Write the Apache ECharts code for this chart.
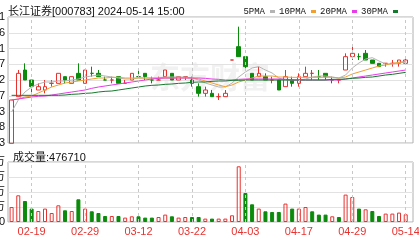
<!DOCTYPE html>
<html><head><meta charset="utf-8">
<script src="https://cdn.jsdelivr.net/npm/echarts@6/dist/echarts.min.js"></script>
<style>html,body{margin:0;padding:0;background:#fff}#c{width:419px;height:240px}</style>
</head><body><div id="c"></div>
<script>
const dates = ['02-06','02-07','02-08','02-19','02-20','02-21','02-22','02-23','02-26','02-27','02-28','02-29','03-01','03-04','03-05','03-06','03-07','03-08','03-11','03-12','03-13','03-14','03-15','03-18','03-19','03-20','03-21','03-22','03-25','03-26','03-27','03-28','03-29','04-01','04-02','04-03','04-08','04-09','04-10','04-11','04-12','04-15','04-16','04-17','04-18','04-19','04-22','04-23','04-24','04-25','04-26','04-29','04-30','05-06','05-07','05-08','05-09','05-10','05-13','05-14'];
// [open, close, low, high]
const ohlc = [
[5.03,5.16,5.03,5.16],[5.17,5.24,5.17,5.25],[5.25,5.22,5.22,5.27],[5.22,5.20,5.18,5.22],[5.19,5.20,5.19,5.21],
[5.19,5.20,5.18,5.22],[5.21,5.21,5.20,5.22],[5.21,5.24,5.21,5.24],[5.23,5.22,5.21,5.23],[5.21,5.23,5.21,5.23],
[5.24,5.22,5.22,5.27],[5.21,5.25,5.21,5.25],[5.24,5.24,5.23,5.26],[5.24,5.23,5.23,5.25],[5.22,5.22,5.22,5.23],
[5.22,5.22,5.21,5.23],[5.23,5.21,5.21,5.23],[5.21,5.21,5.21,5.22],[5.22,5.24,5.22,5.24],[5.23,5.23,5.23,5.25],
[5.24,5.23,5.22,5.24],[5.22,5.22,5.21,5.23],[5.22,5.22,5.22,5.23],[5.23,5.25,5.23,5.25],[5.24,5.22,5.22,5.24],
[5.22,5.23,5.22,5.23],[5.23,5.23,5.22,5.23],[5.22,5.21,5.20,5.23],[5.20,5.18,5.17,5.21],[5.18,5.19,5.17,5.20],
[5.18,5.17,5.17,5.19],[5.17,5.17,5.16,5.18],[5.17,5.18,5.17,5.19],[5.28,5.28,5.28,5.28],[5.32,5.29,5.29,5.38],
[5.29,5.26,5.25,5.29],[5.24,5.22,5.22,5.24],[5.23,5.24,5.23,5.26],[5.23,5.22,5.22,5.24],[5.22,5.22,5.21,5.23],
[5.22,5.19,5.19,5.22],[5.20,5.23,5.20,5.25],[5.22,5.21,5.20,5.23],[5.21,5.23,5.20,5.24],[5.23,5.24,5.23,5.26],
[5.24,5.24,5.22,5.25],[5.23,5.23,5.22,5.25],[5.24,5.23,5.22,5.24],[5.22,5.22,5.21,5.23],[5.22,5.22,5.21,5.22],
[5.25,5.29,5.25,5.30],[5.29,5.30,5.28,5.32],[5.29,5.29,5.28,5.30],[5.30,5.28,5.28,5.31],[5.28,5.27,5.27,5.28],
[5.27,5.26,5.26,5.27],[5.27,5.27,5.26,5.27],[5.27,5.27,5.26,5.28],[5.27,5.28,5.26,5.28],[5.27,5.28,5.27,5.29]];
const ma5 = [5.124,5.160,5.184,5.199,5.208,5.214,5.214,5.217,5.217,5.220,5.223,5.229,5.232,5.235,5.232,5.229,5.226,5.223,5.223,5.226,5.226,5.226,5.226,5.229,5.229,5.229,5.229,5.226,5.220,5.211,5.205,5.199,5.199,5.211,5.229,5.244,5.256,5.260,5.250,5.241,5.226,5.220,5.220,5.220,5.223,5.229,5.232,5.232,5.229,5.226,5.235,5.256,5.271,5.283,5.287,5.277,5.268,5.268,5.271,5.274];
const ma10 = [5.160,5.163,5.169,5.172,5.181,5.190,5.199,5.205,5.211,5.214,5.217,5.220,5.223,5.226,5.226,5.228,5.228,5.226,5.226,5.226,5.226,5.226,5.226,5.226,5.226,5.226,5.226,5.226,5.223,5.217,5.211,5.205,5.200,5.205,5.214,5.220,5.226,5.232,5.232,5.232,5.229,5.229,5.228,5.228,5.228,5.228,5.228,5.228,5.228,5.226,5.229,5.238,5.244,5.250,5.256,5.262,5.265,5.270,5.273,5.276];
const ma20 = [5.160,5.163,5.166,5.169,5.171,5.172,5.175,5.178,5.181,5.184,5.187,5.190,5.195,5.199,5.202,5.205,5.208,5.211,5.214,5.217,5.220,5.223,5.225,5.226,5.226,5.226,5.226,5.226,5.226,5.225,5.223,5.222,5.220,5.220,5.222,5.223,5.223,5.223,5.223,5.223,5.223,5.222,5.220,5.220,5.220,5.220,5.220,5.220,5.220,5.220,5.223,5.226,5.229,5.232,5.235,5.238,5.241,5.244,5.247,5.250];
const ma30 = [5.174,5.174,5.174,5.174,5.174,5.174,5.174,5.174,5.175,5.177,5.178,5.180,5.181,5.184,5.186,5.187,5.190,5.193,5.196,5.199,5.202,5.204,5.205,5.207,5.208,5.210,5.211,5.213,5.214,5.214,5.216,5.217,5.217,5.219,5.219,5.220,5.220,5.220,5.220,5.220,5.220,5.220,5.220,5.220,5.220,5.220,5.220,5.220,5.222,5.222,5.223,5.225,5.226,5.228,5.229,5.232,5.235,5.237,5.240,5.243];
const volumes = [925000,1646000,1295000,826000,678000,826000,555000,1030000,721000,678000,1400000,826000,660000,555000,370000,370000,370000,271000,351000,351000,271000,271000,308000,456000,351000,271000,308000,308000,308000,210000,210000,210000,210000,413000,3435000,1788000,1091000,826000,660000,617000,617000,1135000,826000,826000,925000,660000,456000,456000,351000,308000,1690000,1542000,826000,783000,678000,370000,518000,518000,580000,476710];
const volUp = [1,1,0,0,1,1,1,1,0,1,0,1,0,0,0,1,0,1,1,0,0,0,1,1,0,1,1,0,0,1,0,1,1,1,1,0,0,1,0,0,0,1,0,1,1,0,0,0,1,0,1,1,0,1,0,0,1,1,1,1];
const priceTicks = ['5.03','5.08','5.13','5.17','5.22','5.27','5.31','5.36','5.41'];
const volTicks = ['0','93万','185万','278万','370万'];
const xLabels = ['02-19','02-29','03-12','03-22','04-03','04-17','04-29','05-14'];
const maNames = ['5PMA','10PMA','20PMA','30PMA'];
const priceMin = 5.031, priceMax = 5.409, volMax = 3700000;

const RED = '#e8322f', GREEN = '#0b8a0b';
const MONO = '"Liberation Mono","Noto Sans CJK SC",monospace';
const SANS = '"Liberation Sans","Noto Sans CJK SC",sans-serif';
const maColors = ['#b4b4b4','#f0a030','#e83ce8','#167a2e'];
const maData = [ma5, ma10, ma20, ma30];
const vline = {silent:true, symbol:['none','none'], label:{show:false},
  lineStyle:{type:[3,3], color:'#c8c8c8', width:1}, data: xLabels.map(d=>({xAxis:d}))};
const G = {outerBoundsMode:'none', containLabel:false};

const chart = echarts.init(document.getElementById('c'), null, {renderer:'canvas'});
chart.setOption({
  animation:false,
  backgroundColor:'#fff',
  title:[
    {left:3, top:1, text:'长江证券[000783] 2024-05-14 15:00', textStyle:{fontSize:11, fontWeight:'normal', color:'#111', fontFamily:SANS}},
    {left:8, top:147, text:'成交量:' + volumes[volumes.length-1], textStyle:{fontSize:11, fontWeight:'normal', color:'#111', fontFamily:SANS}}
  ],
  legend:{top:2, right:16, align:'right', icon:'rect', itemWidth:5, itemHeight:3, itemGap:4,
    textStyle:{fontSize:9, color:'#111', fontFamily:MONO}, data:maNames},
  graphic:[{type:'text', left:150, top:62, z:0, silent:true,
    style:{text:'东方财富', fontSize:30, fontWeight:'bold', fill:'#f1f1f1', fontFamily:'"Noto Sans CJK SC"'}}],
  grid:[
    Object.assign({left:8.26, top:17, width:400.8, height:126}, G),
    Object.assign({left:8.26, top:162, width:400.8, height:60}, G),
    Object.assign({left:8, top:17, right:6, height:126, show:true, borderColor:'#b0b0b0', borderWidth:1, backgroundColor:'transparent'}, G),
    Object.assign({left:8, top:162, right:6, height:60, show:true, borderColor:'#b0b0b0', borderWidth:1, backgroundColor:'transparent'}, G)
  ],
  xAxis:[
    {type:'category', gridIndex:0, data:dates, boundaryGap:true, axisLine:{show:false}, axisTick:{show:false}, axisLabel:{show:false}, splitLine:{show:false}},
    {type:'category', gridIndex:1, data:dates, boundaryGap:true, axisLine:{show:false}, axisTick:{show:false}, splitLine:{show:false},
      axisLabel:{interval:(i,v)=>xLabels.indexOf(v)>=0, color:RED, fontSize:11, fontFamily:SANS, margin:4}},
    {type:'value', gridIndex:2, show:false, min:0, max:1},
    {type:'value', gridIndex:3, show:false, min:0, max:1}
  ],
  yAxis:[
    {type:'value', gridIndex:0, min:priceMin, max:priceMax, show:false, splitLine:{show:false}},
    {type:'value', gridIndex:1, min:0, max:volMax, show:false, splitLine:{show:false}},
    {type:'category', gridIndex:2, data:priceTicks, boundaryGap:false, axisLine:{show:false}, axisTick:{show:false},
      axisLabel:{interval:0, color:'#111', fontSize:11, fontFamily:SANS, margin:3},
      splitLine:{show:true, lineStyle:{color:'#e2e2e2', width:1}}},
    {type:'category', gridIndex:3, data:volTicks, boundaryGap:false, axisLine:{show:false}, axisTick:{show:false},
      axisLabel:{interval:0, color:'#111', fontSize:11, fontFamily:SANS, margin:3},
      splitLine:{show:true, lineStyle:{color:'#e2e2e2', width:1}}}
  ],
  series:[
    {type:'line', xAxisIndex:0, yAxisIndex:0, data:[], z:1, markLine:vline},
    {type:'line', xAxisIndex:1, yAxisIndex:1, data:[], z:1, markLine:vline},
    {type:'candlestick', name:'K', xAxisIndex:0, yAxisIndex:0, data:ohlc, barWidth:4, z:3,
      itemStyle:{color:'rgba(255,255,255,0)', color0:GREEN, borderColor:RED, borderColor0:GREEN, borderWidth:1}},
    ...maNames.map((n,k)=>({type:'line', name:n, xAxisIndex:0, yAxisIndex:0, data:maData[k], symbol:'none', z:4,
      itemStyle:{color:maColors[k]}, lineStyle:{color:maColors[k], width:1}})),
    {type:'bar', xAxisIndex:1, yAxisIndex:1, barWidth:4, z:3,
      data: volumes.map((v,i)=>({value:v, itemStyle: volUp[i] ? {color:'rgba(255,255,255,0)', borderColor:RED, borderWidth:1} : {color:GREEN, borderColor:GREEN, borderWidth:1}}))}
  ]
});
</script></body></html>
